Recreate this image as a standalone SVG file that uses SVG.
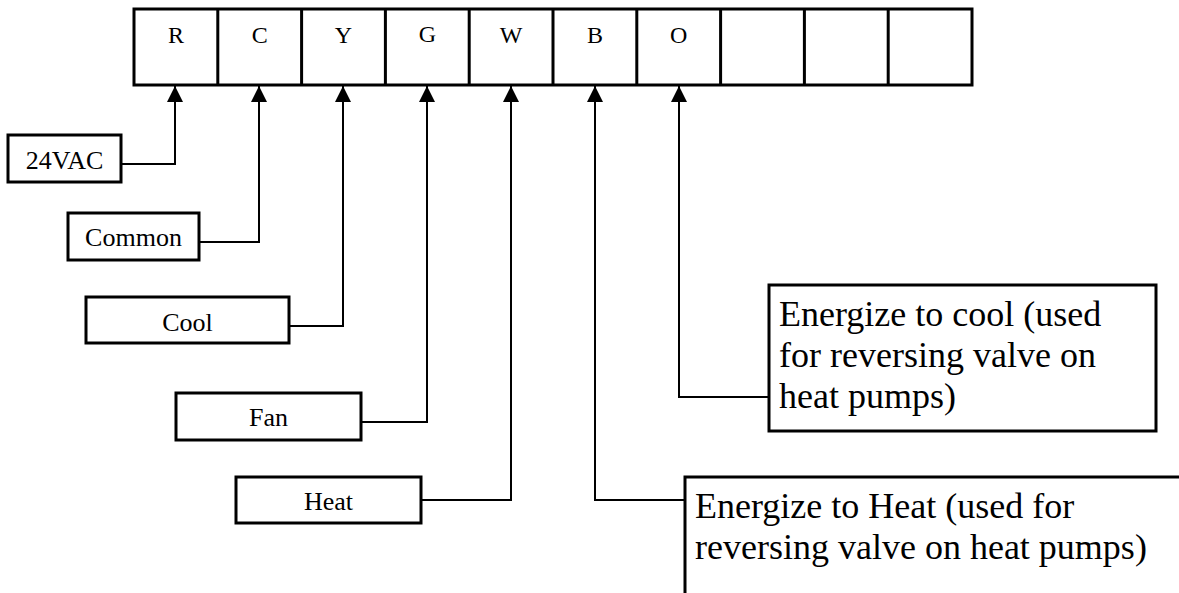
<svg xmlns="http://www.w3.org/2000/svg" width="1179" height="593" viewBox="0 0 1179 593">
<style>
.box{fill:#fff;stroke:#000;stroke-width:3}
.cell{font-family:"Liberation Serif","Times New Roman",serif;font-size:24px;text-anchor:middle;fill:#000}
.lbl{font-family:"Liberation Serif","Times New Roman",serif;font-size:26px;text-anchor:middle;fill:#000}
.big{font-family:"Liberation Serif","Times New Roman",serif;font-size:36px;fill:#000}
.wire{fill:none;stroke:#000;stroke-width:2;marker-end:url(#arr)}
</style>
<defs>
<marker id="arr" markerUnits="userSpaceOnUse" markerWidth="16" markerHeight="16" refX="16" refY="8" orient="auto">
<path d="M0,0 L16,8 L0,16 z" fill="#000"/>
</marker>
</defs>
<rect width="1179" height="593" fill="#fff"/>
<g id="terminals">
<rect class="box" x="134" y="9" width="838" height="76"/>
<path d="M217.8 9V85M301.6 9V85M385.4 9V85M469.2 9V85M553 9V85M636.8 9V85M720.6 9V85M804.4 9V85M888.2 9V85" stroke="#000" stroke-width="3" fill="none"/>
<text class="cell" x="175.9" y="43">R</text>
<text class="cell" x="259.7" y="43">C</text>
<text class="cell" x="343.5" y="43">Y</text>
<text class="cell" x="427.3" y="42">G</text>
<text class="cell" x="511.1" y="43">W</text>
<text class="cell" x="594.9" y="43">B</text>
<text class="cell" x="678.7" y="43">O</text>
</g>
<g id="n24vac"><rect class="box" x="8" y="135" width="113" height="47"/><text class="lbl" x="64.5" y="169">24VAC</text></g>
<g id="common"><rect class="box" x="68" y="213" width="131" height="47"/><text class="lbl" x="133.5" y="246">Common</text></g>
<g id="cool"><rect class="box" x="86" y="297" width="203" height="46"/><text class="lbl" x="187.5" y="331">Cool</text></g>
<g id="fan"><rect class="box" x="176" y="393" width="185" height="47"/><text class="lbl" x="268.5" y="426">Fan</text></g>
<g id="heat"><rect class="box" x="236" y="477" width="185" height="46"/><text class="lbl" x="328.5" y="510">Heat</text></g>
<g id="ocool"><rect class="box" x="769" y="285" width="387" height="146"/>
<text class="big" x="779" y="326">Energize to cool (used</text>
<text class="big" x="779" y="367">for reversing valve on</text>
<text class="big" x="779" y="408">heat pumps)</text></g>
<g id="bheat"><rect class="box" x="685" y="477" width="600" height="200"/>
<text class="big" x="695" y="518">Energize to Heat (used for</text>
<text class="big" x="695" y="559">reversing valve on heat pumps)</text></g>
<g id="connectors">
<path class="wire" d="M121 164H175V86"/>
<path class="wire" d="M199 242H259V86"/>
<path class="wire" d="M289 326H343V86"/>
<path class="wire" d="M361 422H427V86"/>
<path class="wire" d="M421 500H511V86"/>
<path class="wire" d="M685 500H595V86"/>
<path class="wire" d="M769 397H679V86"/>
</g>
</svg>
